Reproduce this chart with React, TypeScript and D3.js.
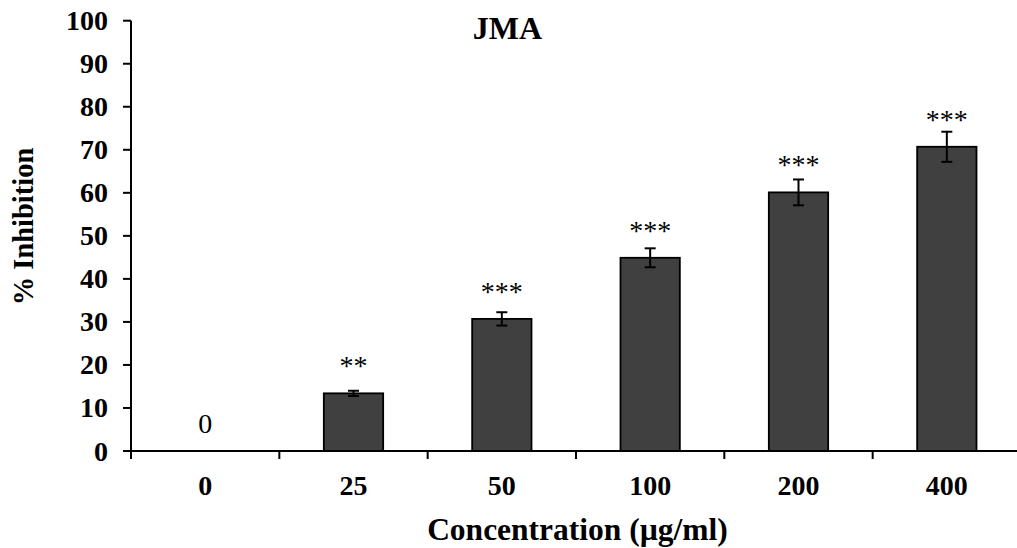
import React from "react";
import * as d3 from "d3";

const categories: string[] = ["0", "25", "50", "100", "200", "400"];
const values: number[] = [0, 13.4, 30.7, 44.9, 60.1, 70.7];
const errors: number[] = [0, 0.6, 1.55, 2.2, 3.0, 3.5];
const sigLabels: string[] = ["0", "**", "***", "***", "***", "***"];
const yTicks: number[] = [0, 10, 20, 30, 40, 50, 60, 70, 80, 90, 100];

const W = 1017;
const H = 548;
const left = 131;
const right = 1021;
const top = 20.7;
const bottom = 451;
const SERIF = "'Liberation Serif', 'Times New Roman', serif";

export default function App() {
  const x = d3.scaleBand<string>().domain(categories).range([left, right]).paddingInner(0.6).paddingOuter(0.3);
  const y = d3.scaleLinear().domain([0, 100]).range([bottom, top]);
  const step = x.step();
  const bw = x.bandwidth();
  const boundaries = d3.range(categories.length + 1).map((i) => left + i * step);

  return (
    <svg width={W} height={H} style={{ position: "absolute", left: 0, top: 0, background: "#fff" }} fontFamily={SERIF}>
      <rect x={0} y={0} width={W} height={H} fill="#fff" />
      {categories.map((c, i) =>
        values[i] > 0 ? (
          <rect
            key={"b" + c}
            x={x(c)!}
            y={y(values[i])}
            width={bw}
            height={bottom - y(values[i])}
            fill="#404040"
            stroke="#000"
            strokeWidth={1.8}
          />
        ) : null
      )}
      {categories.map((c, i) => {
        if (!(errors[i] > 0)) return null;
        const cx = x(c)! + bw / 2;
        const y1 = y(values[i] + errors[i]);
        const y2 = y(values[i] - errors[i]);
        return (
          <g key={"e" + c} stroke="#000" strokeWidth={2}>
            <line x1={cx} x2={cx} y1={y1} y2={y2} />
            <line x1={cx - 5.5} x2={cx + 5.5} y1={y1} y2={y1} />
            <line x1={cx - 5.5} x2={cx + 5.5} y1={y2} y2={y2} />
          </g>
        );
      })}
      {categories.map((c, i) => (
        <text
          key={"s" + c}
          x={x(c)! + bw / 2}
          y={y(values[i]) - 18}
          textAnchor="middle"
          fontSize={28}
          fill="#000"
        >
          {sigLabels[i]}
        </text>
      ))}
      <line x1={left} x2={left} y1={top} y2={bottom} stroke="#000" strokeWidth={2} />
      {yTicks.map((t) => (
        <g key={"yt" + t}>
          <line x1={left - 8} x2={left} y1={y(t)} y2={y(t)} stroke="#000" strokeWidth={2} />
          <text x={108} y={y(t)} dy="0.34em" textAnchor="end" fontSize={28} fontWeight="bold">
            {t}
          </text>
        </g>
      ))}
      <line x1={left - 8} x2={W} y1={bottom} y2={bottom} stroke="#000" strokeWidth={2} />
      {boundaries.map((b, i) => (
        <line key={"xt" + i} x1={b} x2={b} y1={bottom} y2={bottom + 8} stroke="#000" strokeWidth={2} />
      ))}
      {categories.map((c) => (
        <text key={"xl" + c} x={x(c)! + bw / 2} y={495} textAnchor="middle" fontSize={28} fontWeight="bold">
          {c}
        </text>
      ))}
      <text x={577.5} y={540} textAnchor="middle" fontSize={31.5} fontWeight="bold">
        Concentration (µg/ml)
      </text>
      <text transform={`translate(33, 226.5) rotate(-90)`} textAnchor="middle" fontSize={28.5} fontWeight="bold">
        % Inhibition
      </text>
      <text x={507.5} y={39} textAnchor="middle" fontSize={32} fontWeight="bold">
        JMA
      </text>
    </svg>
  );
}
